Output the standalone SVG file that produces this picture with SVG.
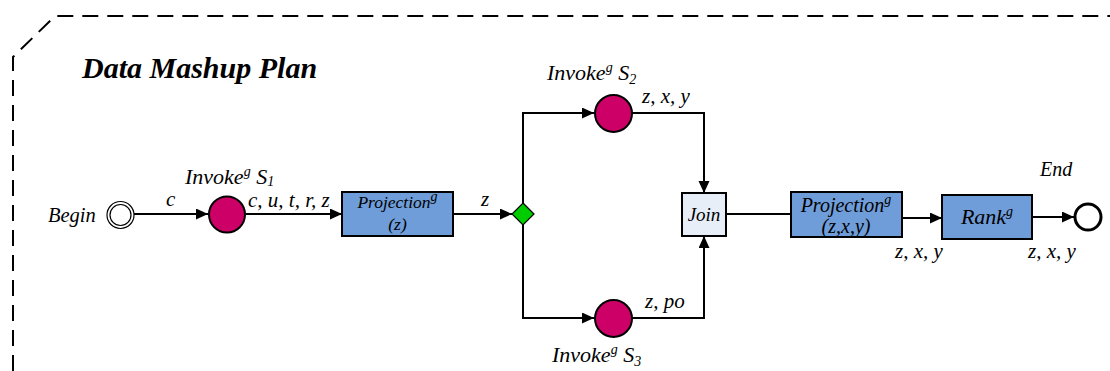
<svg xmlns="http://www.w3.org/2000/svg" width="1110" height="371" viewBox="0 0 1110 371" font-family="'Liberation Serif', Tinos, 'DejaVu Serif', 'Times New Roman', serif">
<defs>
<style>
text{font-family:'Liberation Serif', Tinos, 'DejaVu Serif', 'Times New Roman', serif;font-style:italic;fill:#000}
.lbl{font-size:21px}
.inv{font-size:22px}
.sup{font-size:14px}
.line{fill:none;stroke:#000;stroke-width:2}
.svc{fill:#CC0066;stroke:#000;stroke-width:2}
.op{fill:#6F9DD9;stroke:#000;stroke-width:2}
</style>
<marker id="arr" markerUnits="userSpaceOnUse" markerWidth="13" markerHeight="12" refX="12" refY="5.5" orient="auto">
<path d="M0,0 L12,5.5 L0,11 z" fill="#000"/>
</marker>
</defs>
<rect width="1110" height="371" fill="#fff"/>
<g id="frame">
<path d="M13,371 V57 L55,16 H1110" fill="none" stroke="#000" stroke-width="2" stroke-dasharray="16 9"/>
<text x="82" y="78" style="font-size:30px;font-weight:bold">Data Mashup Plan</text>
</g>
<g id="connectors">
<line class="line" x1="134" y1="214" x2="208" y2="214" marker-end="url(#arr)"/>
<line class="line" x1="246" y1="214" x2="342" y2="214" marker-end="url(#arr)"/>
<line class="line" x1="453" y1="214" x2="512" y2="214" marker-end="url(#arr)"/>
<polyline class="line" points="523,203 523,113 594,113" marker-end="url(#arr)"/>
<polyline class="line" points="523,225 523,318 594,318" marker-end="url(#arr)"/>
<polyline class="line" points="632,113 704,113 704,193" marker-end="url(#arr)"/>
<polyline class="line" points="632,318 704,318 704,236" marker-end="url(#arr)"/>
<line class="line" x1="726" y1="214" x2="791" y2="214"/>
<line class="line" x1="900" y1="218" x2="942" y2="218" marker-end="url(#arr)"/>
<line class="line" x1="1032" y1="217" x2="1074" y2="217" marker-end="url(#arr)"/>
<text class="lbl" x="166" y="206">c</text>
<text class="lbl" x="248" y="207">c, u, t, r, z</text>
<text class="lbl" x="481" y="206">z</text>
<text class="lbl" x="642" y="103">z, x, y</text>
<text class="lbl" x="645" y="308">z, po</text>
<text class="lbl" x="895" y="258">z, x, y</text>
<text class="lbl" x="1028" y="258">z, x, y</text>
</g>
<g id="begin">
<circle cx="120.5" cy="215" r="13.5" fill="#fff" stroke="#000" stroke-width="1.2"/>
<circle cx="120.5" cy="215" r="10.5" fill="none" stroke="#000" stroke-width="1.2"/>
<text x="48" y="222" style="font-size:20.5px">Begin</text>
</g>
<g id="invoke-s1">
<circle class="svc" cx="227" cy="214.5" r="18"/>
<text class="inv" x="185" y="184">Invoke<tspan class="sup" dy="-8">g</tspan><tspan dy="8"> S</tspan><tspan class="sup" dy="2">1</tspan></text>
</g>
<g id="projection-z">
<rect class="op" x="342" y="192" width="111" height="44"/>
<text x="397.5" y="208" text-anchor="middle" style="font-size:17.5px">Projection<tspan class="sup" dy="-7">g</tspan></text>
<text x="397.5" y="230" text-anchor="middle" style="font-size:17.5px">(z)</text>
</g>
<g id="split">
<path d="M523,203 L534,214 L523,225 L512,214 z" fill="#00CC00" stroke="#000" stroke-width="1.2"/>
</g>
<g id="invoke-s2">
<circle class="svc" cx="613.5" cy="113.5" r="18.5"/>
<text class="inv" x="547" y="80">Invoke<tspan class="sup" dy="-8">g</tspan><tspan dy="8"> S</tspan><tspan class="sup" dy="4">2</tspan></text>
</g>
<g id="invoke-s3">
<circle class="svc" cx="613.5" cy="318.5" r="18.5"/>
<text class="inv" x="552" y="362">Invoke<tspan class="sup" dy="-8">g</tspan><tspan dy="8"> S</tspan><tspan class="sup" dy="4">3</tspan></text>
</g>
<g id="join">
<rect x="682" y="193" width="44" height="43" fill="#E8EEF8" stroke="#000" stroke-width="2"/>
<text x="704" y="221" text-anchor="middle" style="font-size:19px">Join</text>
</g>
<g id="projection-zxy">
<rect class="op" x="791" y="192" width="111" height="45"/>
<text x="846" y="212" text-anchor="middle" style="font-size:20px">Projection<tspan class="sup" dy="-8">g</tspan></text>
<text x="846" y="233" text-anchor="middle" style="font-size:20px">(z,x,y)</text>
</g>
<g id="rank">
<rect class="op" x="942" y="195" width="90" height="44"/>
<text x="987" y="224" text-anchor="middle" style="font-size:22px">Rank<tspan class="sup" dy="-8">g</tspan></text>
</g>
<g id="end">
<circle cx="1088" cy="217" r="13" fill="#fff" stroke="#000" stroke-width="3"/>
<text x="1040" y="176" style="font-size:20px">End</text>
</g>
</svg>
